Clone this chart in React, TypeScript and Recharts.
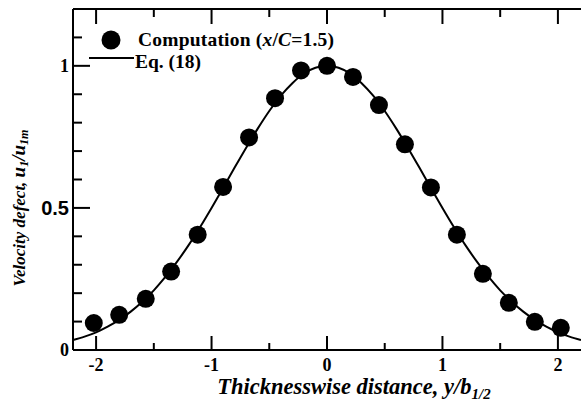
import {
  ComposedChart,
  Label,
  Line,
  Scatter,
  XAxis,
  YAxis,
} from "recharts";

// Computation points (x/C = 1.5)
const pointX = [
  -2.02, -1.8, -1.57, -1.35, -1.12, -0.9, -0.675, -0.45, -0.225, 0, 0.225,
  0.45, 0.675, 0.9, 1.125, 1.35, 1.575, 1.8, 2.025,
];
const pointY = [
  0.095, 0.124, 0.18, 0.276, 0.406, 0.574, 0.748, 0.886, 0.984, 1.0, 0.961,
  0.862, 0.724, 0.572, 0.406, 0.268, 0.166, 0.099, 0.078,
];

// Eq. (18) curve
const curveX = [
  -2.2, -2.1, -2.0, -1.9, -1.8, -1.7, -1.6, -1.5, -1.4, -1.3, -1.2, -1.1, -1.0,
  -0.9, -0.8, -0.7, -0.6, -0.5, -0.4, -0.3, -0.2, -0.1, 0, 0.1, 0.2, 0.3, 0.4,
  0.5, 0.6, 0.7, 0.8, 0.9, 1.0, 1.1, 1.2, 1.3, 1.4, 1.5, 1.6, 1.7, 1.8, 1.9,
  2.0, 2.1, 2.2,
];
const curveY = [
  0.035, 0.047, 0.062, 0.082, 0.106, 0.135, 0.17, 0.21, 0.257, 0.31, 0.368,
  0.432, 0.5, 0.57, 0.642, 0.712, 0.779, 0.841, 0.895, 0.939, 0.973, 0.993, 1,
  0.993, 0.973, 0.939, 0.895, 0.841, 0.779, 0.712, 0.642, 0.57, 0.5, 0.432,
  0.368, 0.31, 0.257, 0.21, 0.17, 0.135, 0.106, 0.082, 0.062, 0.047, 0.035,
];

const xTicks = [-2, -1.5, -1, -0.5, 0, 0.5, 1, 1.5, 2];
const yTicks = [0, 0.1, 0.2, 0.3, 0.4, 0.5, 0.6, 0.7, 0.8, 0.9, 1, 1.1, 1.2];
const xLabels = ["-2", "-1", "0", "1", "2"];
const yLabels = ["0", "0.5", "1"];

const points = pointX.map((x, i) => ({ x, y: pointY[i] }));
const curve = curveX.map((x, i) => ({ x, y: curveY[i] }));

const FONT = "'Liberation Serif', 'Times New Roman', serif";
const SANS = "'Liberation Sans', Arial, sans-serif";

const isMajorX = (v: number) => Math.abs(v - Math.round(v)) < 1e-6;
const isMajorY = (v: number) => Math.abs(v * 2 - Math.round(v * 2)) < 1e-6;

function BottomTick({ x, y, payload }: any) {
  const v = payload.value;
  const major = isMajorX(v);
  const label = xLabels.find((l) => Number(l) === v);
  return (
    <g>
      <line x1={x} x2={x} y1={y} y2={y - (major ? 14 : 7)} stroke="#000" strokeWidth={2} />
      {major && label !== undefined && (
        <text x={x} y={y + 21} textAnchor="middle" fontFamily={FONT} fontWeight="bold" fontSize={18}>
          {label}
        </text>
      )}
    </g>
  );
}

function TopTick({ x, y, payload }: any) {
  const major = isMajorX(payload.value);
  return <line x1={x} x2={x} y1={y} y2={y + (major ? 15 : 8)} stroke="#000" strokeWidth={2} />;
}

function LeftTick({ x, y, payload }: any) {
  const v = payload.value;
  const major = isMajorY(v);
  const label = yLabels.find((l) => Number(l) === v);
  const half = label === "0.5";
  return (
    <g>
      <line x1={x} x2={x + (major ? 17 : 9)} y1={y} y2={y} stroke="#000" strokeWidth={2} />
      {major && label !== undefined && (
        <text
          x={x - 4}
          y={y + (half ? 7 : 6)}
          textAnchor="end"
          fontFamily={half ? SANS : FONT}
          fontWeight="bold"
          fontSize={half ? 20 : 18}
        >
          {label}
        </text>
      )}
    </g>
  );
}

function RightTick({ x, y, payload }: any) {
  const major = isMajorY(payload.value);
  return <line x1={x} x2={x - (major ? 17 : 9)} y1={y} y2={y} stroke="#000" strokeWidth={2} />;
}

function LegendBox() {
  return (
    <svg
      width={270}
      height={50}
      style={{ position: "absolute", left: 80, top: 25, overflow: "visible" }}
    >
      <circle cx={31} cy={15} r={9.5} fill="#000" />
      <text x={58} y={21} fontFamily={FONT} fontWeight="bold" fontSize={19.5} textLength={196}>
        Computation (<tspan fontStyle="italic">x</tspan>/<tspan fontStyle="italic">C</tspan>=1.5)
      </text>
      <line x1={9} x2={54} y1={33} y2={33} stroke="#000" strokeWidth={2} />
      <text x={55} y={43} fontFamily={FONT} fontWeight="bold" fontSize={19.5}>
        Eq. (18)
      </text>
    </svg>
  );
}

function XTitle() {
  return (
    <text x={354} y={394} textAnchor="middle" fontFamily={FONT} fontWeight="bold" fontStyle="italic" fontSize={22.5}>
      Thicknesswise distance, y/b
      <tspan fontSize={15} dy={5}>1/2</tspan>
    </text>
  );
}

function YTitle() {
  return (
    <text
      x={25}
      y={208}
      transform="rotate(-90 25 208)"
      textAnchor="middle"
      fontFamily={FONT}
      fontWeight="bold"
      fontStyle="italic"
      fontSize={17}
    >
      Velocity defect,{" "}
      <tspan fontSize={19}>u</tspan>
      <tspan fontSize={12} dy={3}>1</tspan>
      <tspan fontSize={19} dy={-3}>/u</tspan>
      <tspan fontSize={12} dy={3}>1m</tspan>
    </text>
  );
}

export default function App() {
  return (
    <div style={{ position: "absolute", left: 0, top: 0, width: 582, height: 403, background: "#fff" }}>
      <ComposedChart width={582} height={403} margin={{ top: 8, right: 1, bottom: 0, left: 0 }}>
        <XAxis
          xAxisId="b"
          type="number"
          dataKey="x"
          domain={[-2.2, 2.2]}
          allowDataOverflow
          ticks={xTicks}
          interval={0}
          height={53}
          tickSize={0}
          tickMargin={0}
          tick={<BottomTick />}
          axisLine={{ stroke: "#000", strokeWidth: 2 }}
        >
          <Label content={() => <XTitle />} />
        </XAxis>
        <XAxis
          xAxisId="t"
          orientation="top"
          type="number"
          dataKey="x"
          domain={[-2.2, 2.2]}
          allowDataOverflow
          ticks={xTicks}
          interval={0}
          height={1}
          tickSize={0}
          tickMargin={0}
          tick={<TopTick />}
          axisLine={{ stroke: "#000", strokeWidth: 2 }}
        />
        <YAxis
          yAxisId="l"
          type="number"
          domain={[0, 1.2]}
          allowDataOverflow
          ticks={yTicks}
          interval={0}
          width={73}
          tickSize={0}
          tickMargin={0}
          tick={<LeftTick />}
          axisLine={{ stroke: "#000", strokeWidth: 2 }}
        >
          <Label content={() => <YTitle />} />
        </YAxis>
        <YAxis
          yAxisId="r"
          orientation="right"
          type="number"
          domain={[0, 1.2]}
          allowDataOverflow
          ticks={yTicks}
          interval={0}
          width={0}
          tickSize={0}
          tickMargin={0}
          tick={<RightTick />}
          axisLine={{ stroke: "#000", strokeWidth: 2 }}
        />
        <Line
          xAxisId="b"
          yAxisId="l"
          data={curve}
          dataKey="y"
          type="monotone"
          stroke="#000"
          strokeWidth={2}
          dot={false}
          isAnimationActive={false}
        />
        <Scatter
          xAxisId="b"
          yAxisId="l"
          data={points}
          dataKey="y"
          shape={(p: any) => <circle cx={p.cx} cy={p.cy} r={9} fill="#000" />}
          isAnimationActive={false}
        />
        <Line
          xAxisId="t"
          yAxisId="r"
          data={curve}
          dataKey="y"
          stroke="none"
          dot={false}
          isAnimationActive={false}
        />
      </ComposedChart>
      <LegendBox />
    </div>
  );
}
